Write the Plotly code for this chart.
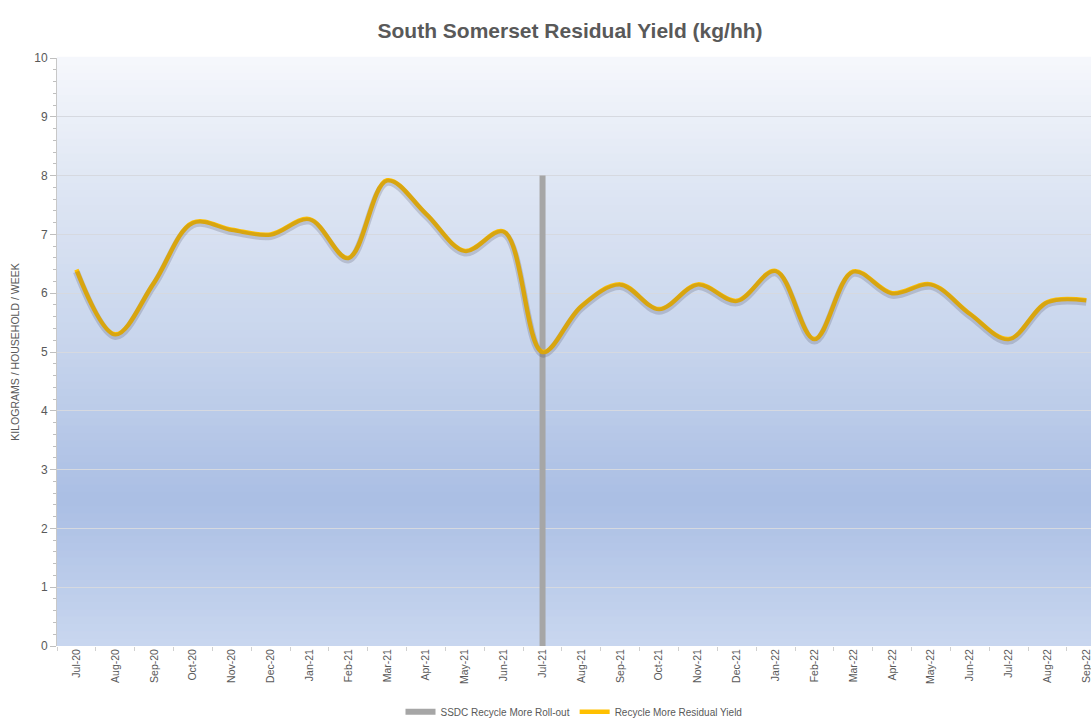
import plotly.graph_objects as go

months = ["Jul-20", "Aug-20", "Sep-20", "Oct-20", "Nov-20", "Dec-20", "Jan-21", "Feb-21",
          "Mar-21", "Apr-21", "May-21", "Jun-21", "Jul-21", "Aug-21", "Sep-21", "Oct-21",
          "Nov-21", "Dec-21", "Jan-22", "Feb-22", "Mar-22", "Apr-22", "May-22", "Jun-22",
          "Jul-22", "Aug-22", "Sep-22"]
residual_yield = [6.40, 5.30, 6.18, 7.20, 7.08, 7.00, 7.26, 6.60, 7.92, 7.35, 6.72, 7.05,
                  5.00, 5.78, 6.15, 5.73, 6.15, 5.87, 6.38, 5.22, 6.37, 6.00, 6.15, 5.65,
                  5.22, 5.85, 5.88]
rollout_month = ["Jul-21", "Jul-21"]
rollout_height = [0, 8]

FONT = "Liberation Sans Narrow, Arial Narrow, Liberation Sans, Arial, sans-serif"

fig = go.Figure()

# gradient background bands (styling only)
stops = [(0.0, (201, 215, 239)), (0.25, (170, 190, 228)), (0.5, (198, 212, 236)),
         (0.8, (224, 231, 244)), (1.0, (246, 248, 252))]

def col_at(t):
    for (t0, c0), (t1, c1) in zip(stops[:-1], stops[1:]):
        if t0 <= t <= t1:
            f = (t - t0) / (t1 - t0)
            return "rgb(%d,%d,%d)" % tuple(round(a + (b - a) * f) for a, b in zip(c0, c1))
    return "rgb(%d,%d,%d)" % stops[-1][1]

nb = 80
shapes = []
for i in range(nb):
    y0 = i / nb
    y1 = (i + 1) / nb
    shapes.append(dict(type="rect", xref="paper", yref="paper", x0=0, x1=1, y0=y0, y1=y1 + 0.002,
                       fillcolor=col_at((y0 + y1) / 2), line=dict(width=0), layer="below"))

fig.add_trace(go.Scatter(
    x=rollout_month, y=rollout_height, mode="lines",
    line=dict(color="#a6a6a6", width=6),
    name="SSDC Recycle More Roll-out"))

# soft shadow of the yield line (same data, axis shifted a couple of px down)
fig.add_trace(go.Scatter(
    x=months, y=residual_yield, mode="lines", yaxis="y2",
    line=dict(color="rgba(60,60,80,0.2)", width=7, shape="spline", smoothing=1.0),
    showlegend=False, hoverinfo="skip"))

fig.add_trace(go.Scatter(
    x=months, y=residual_yield, mode="lines",
    line=dict(color="#FFC000", width=4.5, shape="spline", smoothing=1.0),
    name="Recycle More Residual Yield"))

fig.update_layout(
    width=1091, height=722,
    margin=dict(l=57, r=0, t=58, b=76, autoexpand=False),
    paper_bgcolor="white",
    plot_bgcolor="rgba(0,0,0,0)",
    shapes=shapes,
    title=dict(text="<b>South Somerset Residual Yield (kg/hh)</b>", x=0.5225, xanchor="center",
               y=0.958, yanchor="middle",
               font=dict(family=FONT, size=21, color="#595959")),
    font=dict(family=FONT, color="#595959"),
    xaxis=dict(type="category", categoryorder="array", categoryarray=months,
               range=[-0.5, 26.12], tickangle=-90, tickfont=dict(size=10.5, color="#595959"),
               showgrid=False, ticks="outside", tickson="boundaries", ticklen=4,
               tickcolor="#d0d0d0", showline=False, zeroline=False, automargin=False),
    yaxis=dict(range=[0, 10], dtick=1, tickfont=dict(size=12, color="#595959"),
               showgrid=True, gridcolor="#d6d9e0", gridwidth=1,
               ticks="outside", ticklen=6, tickcolor="#bfbfbf",
               minor=dict(dtick=0.2, ticks="outside", ticklen=3, tickcolor="#bfbfbf", showgrid=False),
               showline=True, linecolor="#c8c8c8", linewidth=1, zeroline=False, automargin=False,
               title=dict(text="KILOGRAMS / HOUSEHOLD / WEEK", font=dict(size=10.5, color="#595959"),
                          standoff=12)),
    yaxis2=dict(range=[0.035, 10.035], overlaying="y", visible=False),
    legend=dict(orientation="h", x=0.5, xanchor="center", y=-0.112, yanchor="middle",
                font=dict(size=10, color="#595959"), bgcolor="rgba(0,0,0,0)",
                itemwidth=30, tracegroupgap=0),
    showlegend=True,
)

fig.write_html("out.html", config={"displayModeBar": False},
               post_script="document.body.style.margin='0';document.body.style.overflow='hidden';")
